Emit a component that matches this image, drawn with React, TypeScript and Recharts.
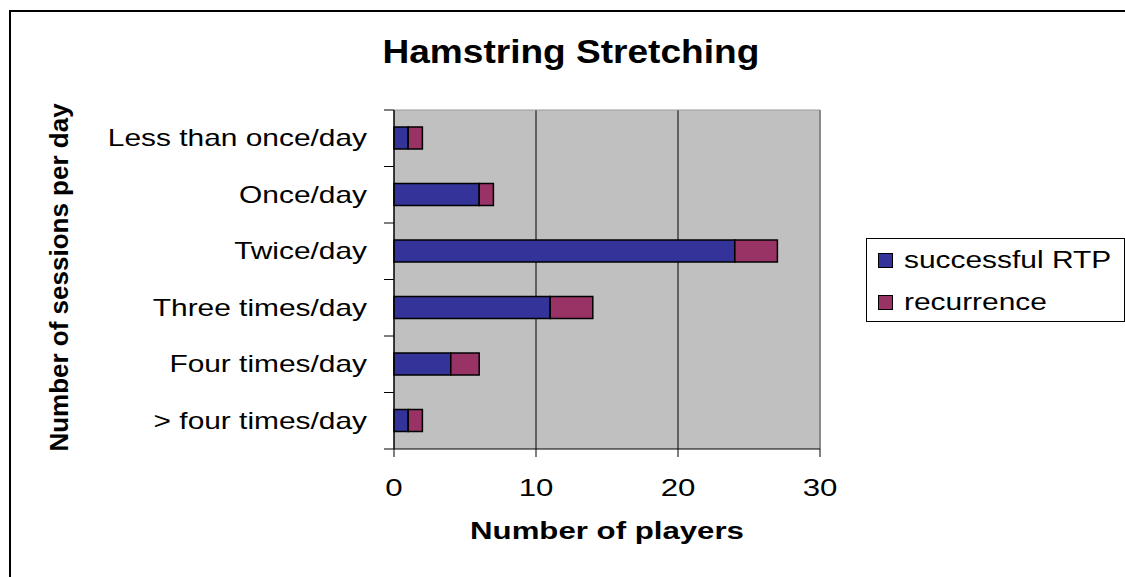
import React from 'react';
import {
  BarChart,
  Bar,
  XAxis,
  YAxis,
  CartesianGrid,
  Legend,
  ReferenceLine,
} from 'recharts';

const categories = [
  'Less than once/day',
  'Once/day',
  'Twice/day',
  'Three times/day',
  'Four times/day',
  '> four times/day',
];
const successfulRtp = [1, 6, 24, 11, 4, 1];
const recurrence = [1, 1, 3, 3, 2, 1];
const seriesNames = ['successful RTP', 'recurrence'];
const xTicks = [0, 10, 20, 30];

const data = categories.map((name, i) => ({
  name,
  successful: successfulRtp[i],
  recurrence: recurrence[i],
}));

const FONT = '"Liberation Sans", Arial, sans-serif';
const SX = 1.3; // the reference text is drawn wide

const CategoryTick = (props: any) => {
  const { x, y, payload, index, visibleTicksCount } = props;
  const half = payload.offset || 0;
  const isLast = index === (visibleTicksCount ?? categories.length) - 1;
  return (
    <g>
      <line x1={x + 17} x2={x + 27} y1={y - half} y2={y - half} stroke="#000" />
      {isLast && <line x1={x + 17} x2={x + 27} y1={y + half} y2={y + half} stroke="#000" />}
      <text
        transform={`translate(${x},${y + 8}) scale(${SX},1)`}
        textAnchor="end"
        fontSize={23}
        fontFamily={FONT}
        fill="#000"
      >
        {payload.value}
      </text>
    </g>
  );
};

const NumberTick = (props: any) => {
  const { x, y, payload } = props;
  return (
    <text
      transform={`translate(${x},${y + 39}) scale(${SX},1)`}
      textAnchor="middle"
      fontSize={24}
      fontFamily={FONT}
      fill="#000"
    >
      {payload.value}
    </text>
  );
};

const XTitle = (props: any) => {
  const { x, y, width } = props.viewBox;
  return (
    <text
      transform={`translate(${x + width / 2},${y + 90}) scale(${SX},1)`}
      textAnchor="middle"
      fontSize={24}
      fontWeight="bold"
      fontFamily={FONT}
      fill="#000"
    >
      Number of players
    </text>
  );
};

const YTitle = (props: any) => {
  const { x, y, height } = props.viewBox;
  const cx = x - 26;
  const cy = y + height / 2 - 2;
  return (
    <text
      transform={`translate(${cx},${cy}) rotate(-90)`}
      textAnchor="middle"
      fontSize={26}
      fontWeight="bold"
      fontFamily={FONT}
      fill="#000"
    >
      Number of sessions per day
    </text>
  );
};

const LegendBox = (props: any) => {
  const items = [...(props.payload || [])].sort(
    (a: any, b: any) => seriesNames.indexOf(a.value) - seriesNames.indexOf(b.value)
  );
  return (
    <div
      style={{
        boxSizing: 'border-box',
        width: 259,
        height: 84,
        border: '1px solid #000',
        background: '#fff',
        paddingTop: 0,
        fontFamily: FONT,
        fontSize: 23,
      }}
    >
      {items.map((entry: any) => (
        <div
          key={entry.value}
          style={{ display: 'flex', alignItems: 'center', height: 42, marginLeft: 11 }}
        >
          <span
            style={{
              boxSizing: 'border-box',
              width: 15,
              height: 15,
              background: entry.color,
              border: '1.5px solid #000',
              marginRight: 11,
              flexShrink: 0,
            }}
          />
          <span
            style={{
              display: 'inline-block',
              transform: `scaleX(${SX})`,
              transformOrigin: 'left center',
              whiteSpace: 'nowrap',
              lineHeight: 1,
            }}
          >
            {entry.value}
          </span>
        </div>
      ))}
    </div>
  );
};

export default function App() {
  return (
    <div
      style={{
        position: 'absolute',
        left: 0,
        top: 0,
        width: 1125,
        height: 577,
        overflow: 'hidden',
        background: '#fff',
      }}
    >
      <div
        style={{
          position: 'absolute',
          left: 9,
          top: 10,
          width: 1200,
          height: 700,
          borderTop: '2px solid #000',
          borderLeft: '2px solid #000',
        }}
      />
      <div
        style={{
          position: 'absolute',
          left: 0,
          top: 34,
          width: 1142,
          textAlign: 'center',
          fontFamily: FONT,
          fontSize: 34,
          fontWeight: 'bold',
          lineHeight: '34px',
        }}
      >
        <span style={{ display: 'inline-block', transform: 'scaleX(1.09)' }}>
          Hamstring Stretching
        </span>
      </div>
      <div style={{ position: 'absolute', left: 0, top: 0 }}>
        <BarChart
          width={1125}
          height={577}
          data={data}
          layout="vertical"
          margin={{ top: 110, right: 305, left: 94, bottom: 28 }}
          barSize={22}
        >
          <CartesianGrid
            fill="#C0C0C0"
            stroke="#000"
            horizontal={false}
            vertical={true}
          />
          <CartesianGrid
            stroke="#9a9a9a"
            vertical={false}
            horizontalCoordinatesGenerator={({ offset }: any) => [offset.top]}
          />
          <ReferenceLine x={30} stroke="#8a8a8a" strokeWidth={2} />
          <XAxis
            type="number"
            domain={[0, 30]}
            ticks={xTicks}
            interval={0}
            height={100}
            tickSize={8}
            tickMargin={0}
            axisLine={{ stroke: '#000' }}
            tickLine={{ stroke: '#000' }}
            tick={<NumberTick />}
            label={{ content: <XTitle /> }}
          />
          <YAxis
            type="category"
            dataKey="name"
            width={300}
            interval={0}
            tickSize={10}
            tickMargin={17}
            axisLine={{ stroke: '#000' }}
            tickLine={false}
            tick={<CategoryTick />}
            label={{ content: <YTitle /> }}
          />
          <Legend
            layout="vertical"
            align="center"
            verticalAlign="middle"
            content={<LegendBox />}
            wrapperStyle={{ left: 866, top: 238, width: 259, height: 84, margin: 0 }}
          />
          <Bar
            dataKey="successful"
            name={seriesNames[0]}
            stackId="a"
            fill="#333399"
            stroke="#000"
            strokeWidth={1.5}
            isAnimationActive={false}
          />
          <Bar
            dataKey="recurrence"
            name={seriesNames[1]}
            stackId="a"
            fill="#993366"
            stroke="#000"
            strokeWidth={1.5}
            isAnimationActive={false}
          />
        </BarChart>
      </div>
    </div>
  );
}
